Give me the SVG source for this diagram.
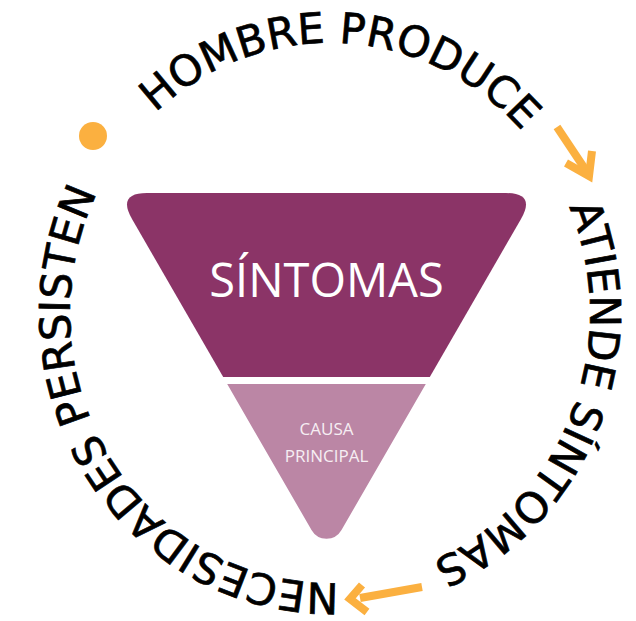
<svg xmlns="http://www.w3.org/2000/svg" xmlns:xlink="http://www.w3.org/1999/xlink" width="636" height="621" viewBox="0 0 636 621">
<style>
.ring{font-family:"DejaVu Sans",sans-serif;font-size:42.5px;fill:#000;stroke:#000;stroke-width:0.7}
.arrow{fill:none;stroke:#FBB040;stroke-width:8;stroke-linecap:butt;stroke-linejoin:miter}
.big{font-family:"Open Sans",sans-serif;font-size:47px;fill:#fff}
.small{font-family:"Open Sans",sans-serif;font-size:17px;fill:#F6EEF3}
</style>
<defs>
<path id="ring" d="M117 158.1 A260 270 0 0 1 565.6 198.9 A260 270 0 0 1 307.3 582 A260 270 0 0 1 117 158.1"/>
</defs>
<rect width="636" height="621" fill="#fff"/>
<g id="top-symptoms">
<path d="M147 193 L506 193 Q536 193 521 219 L429.8 377 L223.2 377 L132 219 Q117 193 147 193 Z" fill="#8B3467"/>
<text class="big" x="326.5" y="297" text-anchor="middle">SÍNTOMAS</text>
</g>
<g id="root-cause">
<path d="M227.2 384 L425.8 384 L341.5 530 A17.3 17.3 0 0 1 311.5 530 Z" fill="#BB86A5"/>
<text class="small" x="326.5" y="435" text-anchor="middle">CAUSA</text>
<text class="small" x="326.5" y="462" text-anchor="middle">PRINCIPAL</text>
</g>
<g id="label-hombre">
<text class="ring"><textPath xlink:href="#ring" href="#ring" startOffset="15.9%" text-anchor="middle">HOMBRE PRODUCE</textPath></text>
</g>
<g id="label-atiende">
<text class="ring"><textPath xlink:href="#ring" href="#ring" startOffset="46.2%" text-anchor="middle">ATIENDE SÍNTOMAS</textPath></text>
</g>
<g id="label-necesidades">
<text class="ring"><textPath xlink:href="#ring" href="#ring" startOffset="81.1%" text-anchor="middle">NECESIDADES PERSISTEN</textPath></text>
</g>
<g id="start-dot">
<circle cx="93" cy="136" r="14" fill="#FBB040"/>
</g>
<g id="connectors">
<path class="arrow" d="M557 127 L587 172"/>
<path class="arrow" d="M566 163 L589 176 L592 151"/>
<path class="arrow" d="M422 587 L360 598"/>
<path class="arrow" d="M362 585 L350 599 L367 612"/>
</g>
</svg>
